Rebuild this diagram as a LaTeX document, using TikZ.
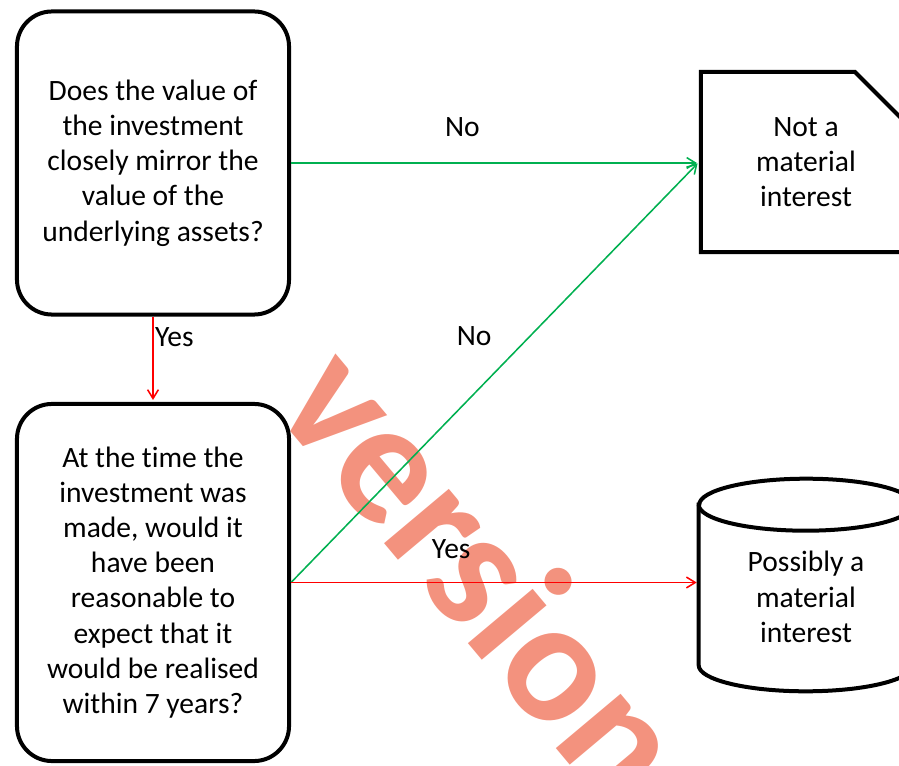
\documentclass[tikz,border=0pt]{standalone}
\usepackage{fontspec}
\setmainfont{Carlito}[Ligatures=NoCommon]
\usetikzlibrary{shapes.misc,arrows.meta,backgrounds}
\definecolor{nogreen}{RGB}{0,176,80}
\definecolor{yesred}{RGB}{255,0,0}
\definecolor{stampred}{RGB}{243,146,126}
\newcommand{\boxfont}{\fontsize{21}{25}\selectfont}
\tikzset{
	question/.style={draw, line width=0.1cm, rounded corners=0.875cm, fill=white, minimum width=6.8cm, minimum height=7.575cm, align=center, font=\boxfont},
	outcome/.style={chamfered rectangle, chamfered rectangle corners=north east, chamfered rectangle xsep=0.7cm, chamfered rectangle ysep=0.7cm, draw, line width=0.1cm, fill=white, minimum width=5.25cm, minimum height=4.5cm, align=center, font=\boxfont},
	drumbody/.style={inner sep=0pt, minimum width=5.35cm, minimum height=4cm},
	answer/.style={font=\boxfont},
	stamptext/.style={font=\fontsize{124}{130}\selectfont\bfseries, text=stampred, rotate=-50, anchor=base, inner sep=0pt},
	noline/.style={draw=nogreen, line width=1.1pt, shorten >=0.05cm, -{Straight Barb[length=2.2mm, width=2.7mm]}},
	yesline/.style={draw=yesred, line width=1.1pt, shorten >=0.05cm, -{Straight Barb[length=2.2mm, width=2.7mm]}}
}
\begin{document}
\begin{tikzpicture}[x=0.025cm, y=0.025cm]
			%%%%% START %%%%%
			\useasboundingbox (0,0) rectangle (899,765);
			
			% questions
			\node[question] (value) at (153,602) {Does the value of\\the investment\\closely mirror the\\value of the\\underlying assets?};
			\node[question, minimum height=8.925cm] (realised) at (153,182.5) {At the time the\\investment was\\made, would it\\have been\\reasonable to\\expect that it\\would be realised\\within 7 years?};
			
			% outcomes
			\node[outcome] (notmat) at (806,603) {Not a\\material\\interest};
			\node[drumbody] (drum) at (806,180) {};
			\node[answer, align=center] (possible) at ([yshift=-0.3cm]drum.center) {Possibly a\\material\\interest};
			
			\begin{scope}[on background layer]
				\node[stamptext] (stamp) at (440,155) {version};
				\draw[line width=0.1cm, fill=white] (drum.north west) -- (drum.south west)
					arc[start angle=180, end angle=360, x radius=2.675cm, y radius=0.65cm] -- (drum.north east)
					arc[start angle=0, end angle=180, x radius=2.675cm, y radius=0.65cm] -- cycle;
				\draw[line width=0.1cm] (drum.north west) arc[start angle=180, end angle=360, x radius=2.675cm, y radius=0.65cm];
			\end{scope}
			
			% connectors
			\draw[yesline] (value) -- node[answer, pos=0.24, anchor=west, inner sep=1pt] (yesdown) {Yes} (realised);
			\draw[noline] (value.east) -- node[answer, pos=0.42, yshift=0.89cm] (notop) {No} (value.east -| notmat.west);
			\draw[noline] (realised.east) -- node[answer, pos=0.449, yshift=1.45cm] (nodiag) {No} (notmat.west);
			\draw[yesline] (realised.east) -- node[answer, pos=0.393, yshift=0.84cm] (yesright) {Yes} (realised.east -| drum.west);
			
			%%%%% END %%%%%
\end{tikzpicture}
\end{document}
